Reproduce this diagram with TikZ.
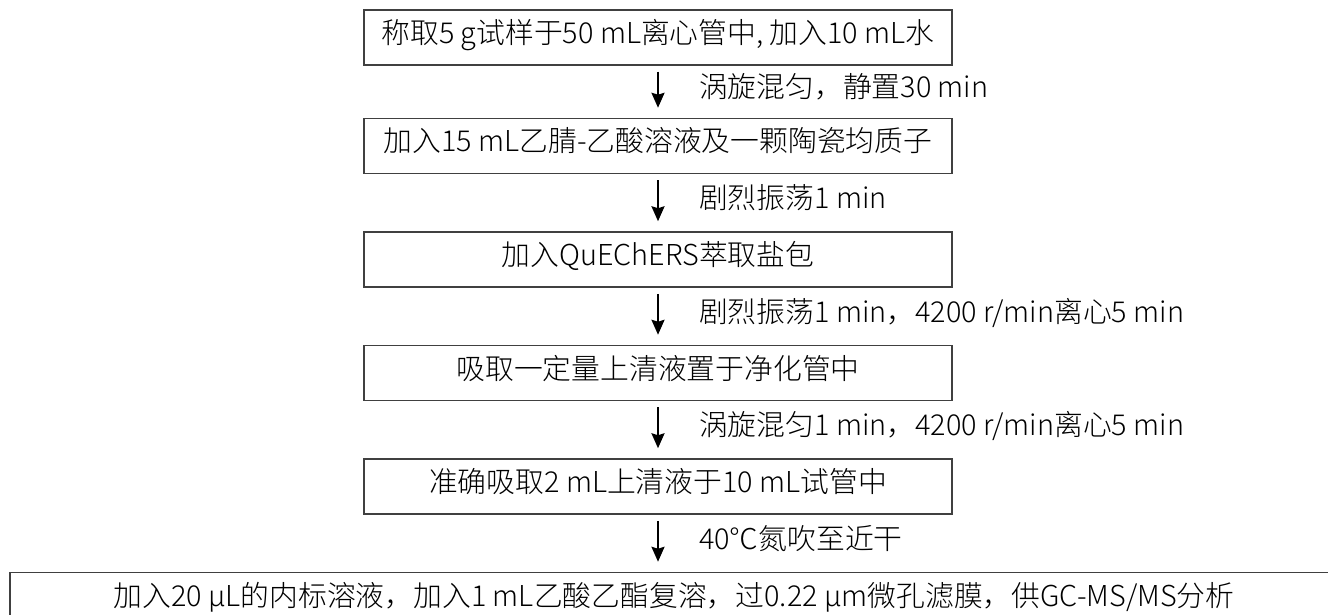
\documentclass[tikz,border=0pt]{standalone}
\usepackage{fontspec}
\setmainfont{Noto Sans CJK SC Light}
\usetikzlibrary{positioning}
\usetikzlibrary{arrows.meta}

\begin{document}
\begin{tikzpicture}[node distance=28.5pt,text height=.90em,text depth=.30em,
		font=\fontsize{14.4pt}{16pt}\selectfont,
		stepbox/.style={minimum width=294pt,minimum height=27.5pt,draw=black!75,line width=.75pt,rectangle},
		lbl/.style={anchor=west,inner xsep=0pt,xshift=20pt},
		flow/.style={-{Stealth[length=7.5pt,width=6.5pt,inset=1pt]},line width=1.1pt,shorten <=3pt,shorten >=5pt}]
		\useasboundingbox (0,0) rectangle (664pt,-307.5pt);
		\node (s1) [stepbox] at (329pt,-18.75pt) {称取5 g试样于50 mL离心管中, 加入10 mL水};
		\node (s2) [stepbox,below=26pt of s1] {加入15 mL乙腈-乙酸溶液及一颗陶瓷均质子};
		\node (s3) [stepbox,below=of s2] {加入QuEChERS萃取盐包};
		\node (s4) [stepbox,below=of s3] {吸取一定量上清液置于净化管中};
		\node (s5) [stepbox,below=of s4] {准确吸取2 mL上清液于10 mL试管中};
		\node (s6) [stepbox,minimum width=664pt,below=of s5,xshift=8pt] {加入20 μL的内标溶液，加入1 mL乙酸乙酯复溶，过0.22 μm微孔滤膜，供GC-MS/MS分析};
		\draw (s1) edge[flow] node[lbl] {涡旋混匀，静置30 min} (s2);
		\draw (s2) edge[flow] node[lbl] {剧烈振荡1 min} (s3);
		\draw (s3) edge[flow] node[lbl] {剧烈振荡1 min，4200 r/min离心5 min} (s4);
		\draw (s4) edge[flow] node[lbl] {涡旋混匀1 min，4200 r/min离心5 min} (s5);
		\draw (s5) edge[flow] node[lbl] {40℃氮吹至近干} (s5.south |- s6.north);
	\end{tikzpicture}
\end{document}
